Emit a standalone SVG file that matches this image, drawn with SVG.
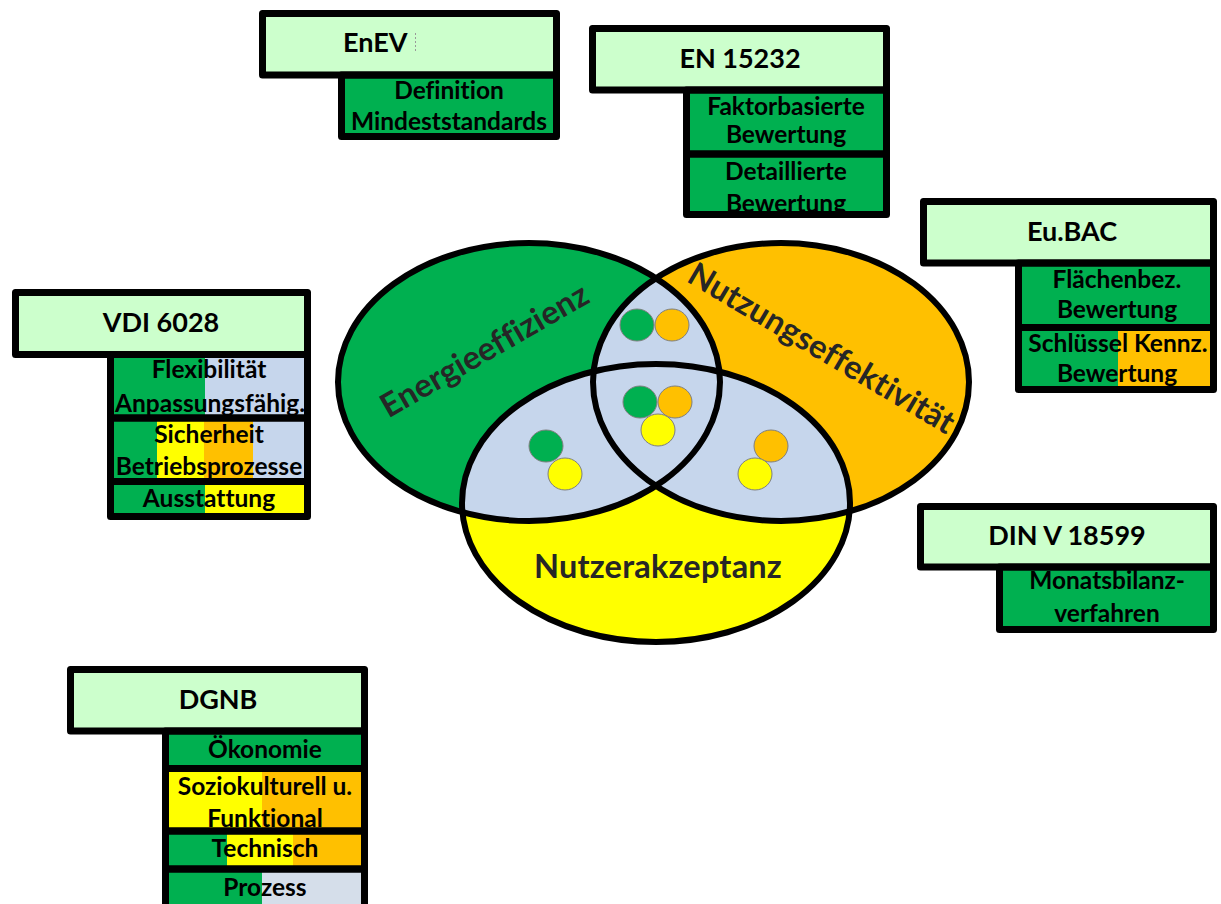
<svg xmlns="http://www.w3.org/2000/svg" width="1221" height="904" viewBox="0 0 1221 904">
  <style>
    text { font-variant-ligatures: none; font-feature-settings: "liga" 0; }
    .hdr { fill: #CCFFCC; }
    .g { fill: #00B050; }
    .o { fill: #FFC000; }
    .y { fill: #FFFF00; }
    .b { fill: #C6D6EC; }
    .bp { fill: #D5DEEA; }
    .frame { fill: none; stroke: #000; stroke-width: 7; stroke-linejoin: round; }
    .th { font-family: Lato, "Liberation Sans", sans-serif; font-weight: bold; font-size: 27px; fill: #000; }
    .ts { font-family: Lato, "Liberation Sans", sans-serif; font-weight: bold; font-size: 24.5px; fill: #000; text-anchor: middle; }
    .tv { font-family: Lato, "Liberation Sans", sans-serif; font-weight: bold; font-size: 32.5px; fill: #262626; text-anchor: middle; letter-spacing: 0.2px; }
    .ring { fill: none; stroke: #000; stroke-width: 6; }
    .dot { stroke: #7f7f7f; stroke-width: 1; }
  </style>
  <defs>
    <clipPath id="clipGreen"><ellipse cx="529" cy="382" rx="191" ry="139"/></clipPath>
    <clipPath id="clipOrange"><ellipse cx="781" cy="382" rx="188" ry="139"/></clipPath>
  </defs>

  <!-- Venn diagram: three overlapping ellipses -->
  <g id="venn">
    <g id="energieeffizienz">
      <ellipse class="g" cx="529" cy="382" rx="191" ry="139"/>
    </g>
    <g id="nutzungseffektivitaet">
      <ellipse class="o" cx="781" cy="382" rx="188" ry="139"/>
    </g>
    <g id="nutzerakzeptanz">
      <ellipse class="y" cx="656" cy="503" rx="194" ry="139"/>
    </g>
    <!-- pairwise overlaps -->
    <g id="overlaps">
      <ellipse class="b" cx="781" cy="382" rx="188" ry="139" clip-path="url(#clipGreen)"/>
      <ellipse class="b" cx="656" cy="503" rx="194" ry="139" clip-path="url(#clipGreen)"/>
      <ellipse class="b" cx="656" cy="503" rx="194" ry="139" clip-path="url(#clipOrange)"/>
    </g>
    <g id="outlines">
      <ellipse class="ring" cx="529" cy="382" rx="191" ry="139"/>
      <ellipse class="ring" cx="781" cy="382" rx="188" ry="139"/>
      <ellipse class="ring" cx="656" cy="503" rx="194" ry="139"/>
    </g>
    <!-- markers inside the overlap regions -->
    <g id="markers">
      <ellipse class="g dot" cx="637" cy="325" rx="17" ry="16"/>
      <ellipse class="o dot" cx="672" cy="325" rx="17" ry="16"/>

      <ellipse class="g dot" cx="640" cy="402" rx="17" ry="16"/>
      <ellipse class="o dot" cx="675" cy="402" rx="17" ry="16"/>
      <ellipse class="y dot" cx="658" cy="430" rx="17" ry="16"/>

      <ellipse class="g dot" cx="546" cy="446" rx="17" ry="16"/>
      <ellipse class="y dot" cx="565" cy="474" rx="17" ry="16"/>

      <ellipse class="o dot" cx="771" cy="446" rx="17" ry="16"/>
      <ellipse class="y dot" cx="755" cy="474" rx="17" ry="16"/>
    </g>
    <g id="venn-labels">
      <text class="tv" transform="translate(490,360) rotate(-30)">Energieeffizienz</text>
      <text class="tv" transform="translate(816,358) rotate(30.5)">Nutzungseffektivität</text>
      <text class="tv" x="658" y="578">Nutzerakzeptanz</text>
    </g>
  </g>

  <!-- EnEV -->
  <g id="enev">
    <rect class="hdr" x="262.5" y="13.5" width="294" height="61.5"/>
    <rect class="g" x="341.5" y="75" width="215" height="61.5"/>
    <text class="th" x="343" y="52">EnEV</text>
    <line x1="415.5" y1="33" x2="415.5" y2="52" stroke="#999" stroke-width="1" stroke-dasharray="2 2"/>
    <text class="ts" x="449" y="99">Definition</text>
    <text class="ts" x="449" y="130">Mindeststandards</text>
    <rect class="frame" x="262.5" y="13.5" width="294" height="61.5"/>
    <rect class="frame" x="341.5" y="75" width="215" height="61.5"/>
  </g>

  <!-- EN 15232 -->
  <g id="en15232">
    <rect class="hdr" x="592.5" y="28.5" width="294" height="61.5"/>
    <rect class="g" x="686.5" y="90" width="200" height="124.5"/>
    <text class="th" x="740" y="68" text-anchor="middle">EN 15232</text>
    <text class="ts" x="786" y="115">Faktorbasierte</text>
    <text class="ts" x="786" y="143">Bewertung</text>
    <text class="ts" x="786" y="180">Detaillierte</text>
    <text class="ts" x="786" y="212">Bewertung</text>
    <rect class="frame" x="592.5" y="28.5" width="294" height="61.5"/>
    <rect class="frame" x="686.5" y="90" width="200" height="64"/>
    <rect class="frame" x="686.5" y="154" width="200" height="60.5"/>
  </g>

  <!-- Eu.BAC -->
  <g id="eubac">
    <rect class="hdr" x="923.5" y="201.5" width="290" height="61.5"/>
    <rect class="g" x="1018.5" y="263" width="195" height="126"/>
    <rect class="o" x="1118" y="327.5" width="95.5" height="62"/>
    <text class="th" x="1072" y="241" text-anchor="middle">Eu.BAC</text>
    <text class="ts" x="1117" y="288">Flächenbez.</text>
    <text class="ts" x="1117" y="318">Bewertung</text>
    <text class="ts" x="1118" y="352">Schlüssel Kennz.</text>
    <text class="ts" x="1117" y="382">Bewertung</text>
    <rect class="frame" x="923.5" y="201.5" width="290" height="61.5"/>
    <rect class="frame" x="1018.5" y="263" width="195" height="64.5"/>
    <rect class="frame" x="1018.5" y="327.5" width="195" height="62"/>
  </g>

  <!-- VDI 6028 -->
  <g id="vdi6028">
    <rect class="hdr" x="15.5" y="292.5" width="292" height="62"/>
    <rect class="g" x="110.5" y="354.5" width="95" height="63.5"/>
    <rect class="b" x="205" y="354.5" width="102.5" height="63.5"/>
    <rect class="g" x="110.5" y="418" width="47" height="63.5"/>
    <rect class="y" x="157" y="418" width="47" height="63.5"/>
    <rect class="o" x="204" y="418" width="49" height="63.5"/>
    <rect class="b" x="253" y="418" width="54.5" height="63.5"/>
    <rect class="g" x="110.5" y="481.5" width="95" height="35"/>
    <rect class="y" x="205" y="481.5" width="102.5" height="35"/>
    <text class="th" x="161" y="332" text-anchor="middle">VDI 6028</text>
    <text class="ts" x="209" y="378">Flexibilität</text>
    <text class="ts" x="210" y="412">Anpassungsfähig.</text>
    <text class="ts" x="209" y="443">Sicherheit</text>
    <text class="ts" x="209" y="475">Betriebsprozesse</text>
    <text class="ts" x="209" y="507">Ausstattung</text>
    <rect class="frame" x="15.5" y="292.5" width="292" height="62"/>
    <rect class="frame" x="110.5" y="354.5" width="197" height="63.5"/>
    <rect class="frame" x="110.5" y="418" width="197" height="63.5"/>
    <rect class="frame" x="110.5" y="481.5" width="197" height="35"/>
  </g>

  <!-- DIN V 18599 -->
  <g id="dinv18599">
    <rect class="hdr" x="920.5" y="506.5" width="293" height="60.5"/>
    <rect class="g" x="999.5" y="567" width="214" height="62.5"/>
    <text class="th" x="1067" y="545" text-anchor="middle">DIN V 18599</text>
    <text class="ts" x="1107" y="589">Monatsbilanz-</text>
    <text class="ts" x="1107" y="622">verfahren</text>
    <rect class="frame" x="920.5" y="506.5" width="293" height="60.5"/>
    <rect class="frame" x="999.5" y="567" width="214" height="62.5"/>
  </g>

  <!-- DGNB -->
  <g id="dgnb">
    <rect class="hdr" x="70.5" y="669.5" width="294" height="61.5"/>
    <rect class="g" x="165.5" y="731" width="199" height="37.5"/>
    <rect class="y" x="165.5" y="768.5" width="96.5" height="62.5"/>
    <rect class="o" x="262" y="768.5" width="102.5" height="62.5"/>
    <rect class="g" x="165.5" y="831" width="61.5" height="38"/>
    <rect class="y" x="227" y="831" width="66" height="38"/>
    <rect class="o" x="293" y="831" width="71.5" height="38"/>
    <rect class="g" x="165.5" y="869" width="96.5" height="41"/>
    <rect class="bp" x="262" y="869" width="102.5" height="41"/>
    <text class="th" x="218" y="709" text-anchor="middle">DGNB</text>
    <text class="ts" x="265" y="758">Ökonomie</text>
    <text class="ts" x="265" y="795">Soziokulturell u.</text>
    <text class="ts" x="265" y="827">Funktional</text>
    <text class="ts" x="265" y="857">Technisch</text>
    <text class="ts" x="265" y="896">Prozess</text>
    <rect class="frame" x="70.5" y="669.5" width="294" height="61.5"/>
    <rect class="frame" x="165.5" y="731" width="199" height="37.5"/>
    <rect class="frame" x="165.5" y="768.5" width="199" height="62.5"/>
    <rect class="frame" x="165.5" y="831" width="199" height="38"/>
    <rect class="frame" x="165.5" y="869" width="199" height="41"/>
  </g>
</svg>
